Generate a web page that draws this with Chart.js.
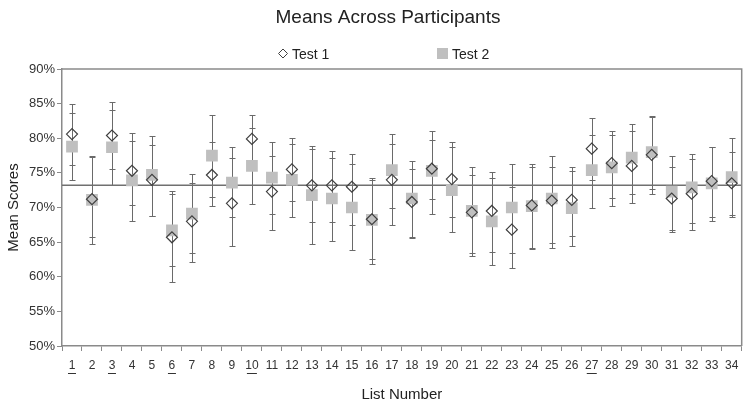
<!DOCTYPE html>
<html>
<head>
<meta charset="utf-8">
<title>Means Across Participants</title>
<script src="https://cdn.jsdelivr.net/npm/chart.js@4.4.1/dist/chart.umd.min.js"></script>
<style>
  html, body { margin: 0; padding: 0; background: #fff; }
  #wrap { width: 750px; height: 407px; }
</style>
</head>
<body>
<div id="wrap"><canvas id="meansChart"></canvas></div>
<script>
// data (percent scores)
const listNumbers = ['1', '2', '3', '4', '5', '6', '7', '8', '9', '10', '11', '12', '13', '14', '15', '16', '17',
                     '18', '19', '20', '21', '22', '23', '24', '25', '26', '27', '28', '29', '30', '31', '32', '33', '34'];

const test1Means = [80.6, 71.2, 80.4, 75.3, 74.0, 65.7, 68.0, 74.7, 70.6, 79.9, 72.3, 75.5, 73.2, 73.2, 73.0, 68.3, 74.0,
                    70.8, 75.6, 74.1, 69.3, 69.5, 66.8, 70.3, 71.0, 71.1, 78.5, 76.4, 76.0, 77.6, 71.3, 72.0, 73.8, 73.5];
const test1Low   = [76.1, 65.7, 75.5, 70.3, 68.8, 59.3, 62.1, 70.2, 64.4, 76.4, 66.8, 70.9, 67.9, 67.9, 67.5, 62.5, 67.5,
                    65.6, 71.2, 68.7, 63.0, 63.6, 61.2, 64.2, 64.2, 65.9, 74.0, 71.3, 70.6, 71.9, 66.7, 66.8, 68.7, 68.9];
const test1High  = [85.0, 77.3, 85.2, 80.8, 79.0, 71.9, 73.5, 79.4, 77.2, 83.3, 77.5, 80.0, 78.4, 78.1, 77.7, 74.3, 79.2,
                    75.5, 79.8, 79.4, 74.7, 75.1, 72.9, 75.8, 77.4, 75.9, 82.9, 81.1, 81.1, 83.1, 75.9, 77.0, 78.8, 78.0];

const test2Means = [78.8, 71.1, 78.7, 73.9, 74.7, 66.7, 69.1, 77.5, 73.6, 76.0, 74.3, 74.0, 71.8, 71.3, 70.0, 68.2, 75.4,
                    71.3, 75.3, 72.5, 69.5, 68.0, 70.0, 70.2, 71.3, 69.9, 75.4, 75.8, 77.2, 78.0, 72.3, 72.9, 73.5, 74.4];
const test2Low   = [74.0, 64.7, 73.2, 68.1, 68.8, 61.5, 63.4, 71.5, 68.6, 70.5, 69.0, 68.6, 64.8, 65.2, 63.8, 61.8, 69.9,
                    65.8, 69.1, 66.4, 63.5, 61.7, 63.5, 64.0, 64.9, 64.5, 69.9, 70.2, 72.0, 72.7, 66.4, 67.8, 68.0, 68.7];
const test2High  = [83.7, 77.4, 84.1, 79.6, 80.3, 72.4, 74.8, 83.3, 78.7, 81.5, 79.4, 79.1, 78.9, 77.1, 76.3, 74.0, 80.6,
                    76.7, 81.1, 78.7, 75.8, 74.3, 76.3, 76.3, 75.8, 75.3, 80.5, 80.5, 82.1, 83.2, 77.5, 77.7, 78.7, 80.0];

const grandMean = 73.2;                      // horizontal reference line
const underlinedLists = ['1', '3', '6', '10', '27'];

const FONT = '"Liberation Sans", Arial, Helvetica, sans-serif';
const AXIS_GRAY = '#8a8a8a';

// error bars + reference line, drawn behind the markers
const errorBarsPlugin = {
    id: 'errorBars',
    beforeDatasetsDraw(chart) {
        const { ctx, chartArea, scales: { x, y } } = chart;
        ctx.save();
        ctx.strokeStyle = '#6a6a6a';
        ctx.lineWidth = 1;
        [[test1Low, test1High], [test2Low, test2High]].forEach(([lows, highs]) => {
            lows.forEach((lo, i) => {
                const px = Math.round(x.getPixelForValue(i)) + 0.5;
                const top = Math.round(y.getPixelForValue(highs[i])) + 0.5;
                const bot = Math.round(y.getPixelForValue(lo)) + 0.5;
                ctx.beginPath();
                ctx.moveTo(px, top); ctx.lineTo(px, bot);
                ctx.moveTo(px - 3, top); ctx.lineTo(px + 3, top);
                ctx.moveTo(px - 3, bot); ctx.lineTo(px + 3, bot);
                ctx.stroke();
            });
        });
        // reference line
        const ry = y.getPixelForValue(grandMean);
        ctx.strokeStyle = '#707070';
        ctx.lineWidth = 1.5;
        ctx.beginPath();
        ctx.moveTo(chartArea.left, ry);
        ctx.lineTo(chartArea.right, ry);
        ctx.stroke();
        ctx.restore();
    }
};

// frame, title, legend and underlined list numbers
const decorPlugin = {
    id: 'decor',
    afterDraw(chart) {
        const { ctx, chartArea, scales: { x } } = chart;
        ctx.save();
        // top and right border of the plot box
        ctx.strokeStyle = AXIS_GRAY;
        ctx.lineWidth = 1.5;
        ctx.beginPath();
        ctx.moveTo(chartArea.left, chartArea.top);
        ctx.lineTo(chartArea.right, chartArea.top);
        ctx.lineTo(chartArea.right, chartArea.bottom);
        ctx.stroke();

        const cx = chart.width / 2;
        ctx.fillStyle = '#222';
        ctx.textBaseline = 'alphabetic';
        ctx.textAlign = 'center';
        ctx.font = '19px ' + FONT;
        ctx.fillText('Means Across Participants', cx + 13, 23);

        // legend
        const ds = chart.data.datasets;
        ctx.font = '14px ' + FONT;
        ctx.textAlign = 'left';
        ctx.fillStyle = '#fff';
        ctx.strokeStyle = '#404040';
        ctx.lineWidth = 1;
        Chart.helpers.drawPoint(ctx, { pointStyle: 'rectRot', radius: 4.5, borderWidth: 1 }, cx - 92, 53.5);
        ctx.fillStyle = '#222';
        ctx.fillText(ds[0].label, cx - 83, 59);
        ctx.fillStyle = ds[1].backgroundColor;
        ctx.fillRect(cx + 62, 48, 11, 11);
        ctx.fillStyle = '#222';
        ctx.fillText(ds[1].label, cx + 77, 59);

        // underline marks below some list numbers
        ctx.strokeStyle = '#333';
        ctx.lineWidth = 1;
        underlinedLists.forEach(lbl => {
            const i = listNumbers.indexOf(lbl);
            const px = x.getPixelForValue(i);
            const half = lbl.length > 1 ? 5 : 4;
            ctx.beginPath();
            ctx.moveTo(px - half, x.top + 27.5);
            ctx.lineTo(px + half, x.top + 27.5);
            ctx.stroke();
        });
        ctx.restore();
    }
};

const ctx = document.getElementById('meansChart').getContext('2d');
new Chart(ctx, {
    type: 'line',
    data: {
        labels: listNumbers,
        datasets: [
            {
                label: 'Test 1',
                data: test1Means,
                showLine: false,
                pointStyle: 'rectRot',
                pointRadius: 5.5,
                pointBackgroundColor: 'rgba(0,0,0,0)',
                pointBorderColor: '#404040',
                pointBorderWidth: 1.2,
                backgroundColor: 'rgba(0,0,0,0)',
                borderColor: '#404040'
            },
            {
                label: 'Test 2',
                data: test2Means,
                showLine: false,
                pointStyle: 'rect',
                pointRadius: 8.3,
                pointBackgroundColor: '#bfbfbf',
                pointBorderWidth: 0,
                backgroundColor: '#bfbfbf',
                borderColor: '#bfbfbf'
            }
        ]
    },
    options: {
        responsive: true,
        maintainAspectRatio: false,
        animation: false,
        events: [],
        layout: { padding: { top: 69, right: 7, left: 0, bottom: 0 } },
        plugins: {
            legend: { display: false },
            title: { display: false },
            tooltip: { enabled: false }
        },
        scales: {
            x: {
                offset: true,
                grid: { offset: true, drawOnChartArea: false, drawTicks: true, tickLength: 5, color: AXIS_GRAY, lineWidth: 1 },
                border: { color: AXIS_GRAY, width: 1.5 },
                ticks: { color: '#333', font: { family: FONT, size: 12 }, padding: 7, maxRotation: 0, autoSkip: false },
                title: { display: true, text: 'List Number', color: '#222', font: { family: FONT, size: 15 }, padding: { top: 6, bottom: 3 } },
                afterFit(scale) { scale.height = 61; }
            },
            y: {
                min: 50,
                max: 90,
                grid: { drawOnChartArea: false, drawTicks: true, tickLength: 5, color: AXIS_GRAY, lineWidth: 1 },
                border: { color: AXIS_GRAY, width: 1.5 },
                ticks: { stepSize: 5, color: '#333', font: { family: FONT, size: 13 }, padding: 2,
                         callback: value => value + '%' },
                title: { display: true, text: 'Mean Scores', color: '#222', font: { family: FONT, size: 15 }, padding: { top: 5, bottom: 0 } },
                afterFit(scale) { scale.width = 62; }
            }
        }
    },
    plugins: [errorBarsPlugin, decorPlugin]
});
</script>
</body>
</html>
